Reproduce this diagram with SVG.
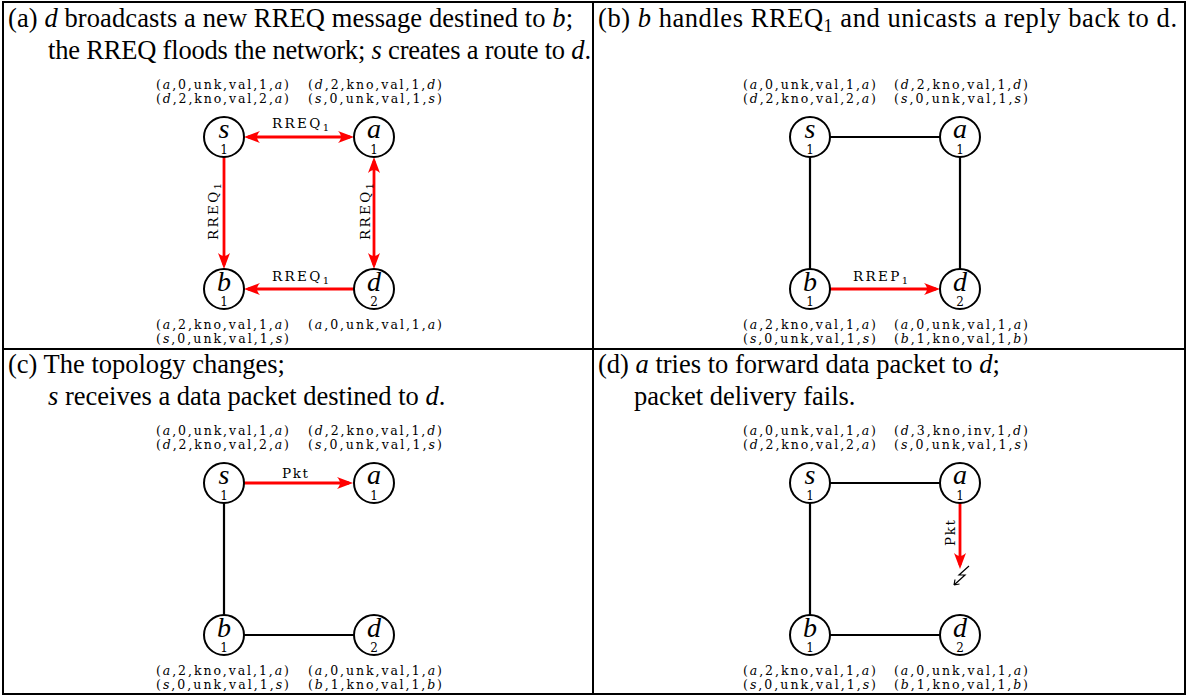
<svg xmlns="http://www.w3.org/2000/svg" width="1188" height="696" viewBox="0 0 1188 696">
<defs>
<marker id="ah" markerUnits="userSpaceOnUse" viewBox="-13 -7 18 14" markerWidth="18" markerHeight="14" refX="0" refY="0" orient="auto-start-reverse">
<path d="M4,0 L-12,-6 C-8,-1.5 -8,1.5 -12,6 Z" fill="#ff0000"/>
</marker>
</defs>
<style>
.title{font-family:"Liberation Serif","Times New Roman",serif;font-size:26.5px;fill:#000}
.it{font-style:italic}
.tbl{font-family:"DejaVu Serif","Liberation Serif",serif;font-size:12.5px;fill:#000}
.nd circle{fill:#fff;stroke:#000;stroke-width:2}
.lbl{font-family:"Liberation Serif",serif;font-style:italic;font-size:28px;text-anchor:middle;fill:#000}
.num{font-family:"DejaVu Serif","Liberation Serif",serif;font-size:12px;text-anchor:middle;fill:#000}
.e{stroke:#000;stroke-width:2.2;fill:none}
.r{stroke:#ff0000;stroke-width:2.8;fill:none}
.ra{marker-end:url(#ah)}
.rb{marker-start:url(#ah);marker-end:url(#ah)}
.el{font-family:"DejaVu Serif","Liberation Serif",serif;font-size:13.5px;fill:#000}
.frame{stroke:#000;stroke-width:2;fill:none}
</style>

<g id="frame">
<rect class="frame" x="3" y="2" width="1182" height="692"/>
<line class="frame" x1="593" y1="2" x2="593" y2="694"/>
<line class="frame" x1="3" y1="349" x2="1185" y2="349"/>
</g>

<g id="titles">
<text class="title" x="8" y="27" textLength="565">(a) <tspan class="it">d</tspan> broadcasts a new RREQ message destined to <tspan class="it">b</tspan>;</text>
<text class="title" x="48" y="59" textLength="543">the RREQ floods the network; <tspan class="it">s</tspan> creates a route to <tspan class="it">d</tspan>.</text>
<text class="title" x="598" y="27" textLength="579">(b) <tspan class="it">b</tspan> handles RREQ<tspan font-size="18" dy="5">1</tspan><tspan dy="-5"> and unicasts a reply back to d.</tspan></text>
<text class="title" x="8" y="373">(c) The topology changes;</text>
<text class="title" x="48" y="405"><tspan class="it">s</tspan> receives a data packet destined to <tspan class="it">d</tspan>.</text>
<text class="title" x="598" y="373">(d) <tspan class="it">a</tspan> tries to forward data packet to <tspan class="it">d</tspan>;</text>
<text class="title" x="634" y="405">packet delivery fails.</text>
</g>

<g id="tables">
<!-- panel a -->
<text class="tbl" x="156" y="89" textLength="133">(<tspan class="it">a</tspan>,0,unk,val,1,<tspan class="it">a</tspan>)</text>
<text class="tbl" x="156" y="103" textLength="133">(<tspan class="it">d</tspan>,2,kno,val,2,<tspan class="it">a</tspan>)</text>
<text class="tbl" x="308" y="89" textLength="134">(<tspan class="it">d</tspan>,2,kno,val,1,<tspan class="it">d</tspan>)</text>
<text class="tbl" x="308" y="103" textLength="134">(<tspan class="it">s</tspan>,0,unk,val,1,<tspan class="it">s</tspan>)</text>
<text class="tbl" x="156" y="329" textLength="133">(<tspan class="it">a</tspan>,2,kno,val,1,<tspan class="it">a</tspan>)</text>
<text class="tbl" x="156" y="343" textLength="133">(<tspan class="it">s</tspan>,0,unk,val,1,<tspan class="it">s</tspan>)</text>
<text class="tbl" x="308" y="329" textLength="134">(<tspan class="it">a</tspan>,0,unk,val,1,<tspan class="it">a</tspan>)</text>
<!-- panel b -->
<text class="tbl" x="743" y="89" textLength="133">(<tspan class="it">a</tspan>,0,unk,val,1,<tspan class="it">a</tspan>)</text>
<text class="tbl" x="743" y="103" textLength="133">(<tspan class="it">d</tspan>,2,kno,val,2,<tspan class="it">a</tspan>)</text>
<text class="tbl" x="894" y="89" textLength="134">(<tspan class="it">d</tspan>,2,kno,val,1,<tspan class="it">d</tspan>)</text>
<text class="tbl" x="894" y="103" textLength="134">(<tspan class="it">s</tspan>,0,unk,val,1,<tspan class="it">s</tspan>)</text>
<text class="tbl" x="743" y="329" textLength="133">(<tspan class="it">a</tspan>,2,kno,val,1,<tspan class="it">a</tspan>)</text>
<text class="tbl" x="743" y="343" textLength="133">(<tspan class="it">s</tspan>,0,unk,val,1,<tspan class="it">s</tspan>)</text>
<text class="tbl" x="894" y="329" textLength="134">(<tspan class="it">a</tspan>,0,unk,val,1,<tspan class="it">a</tspan>)</text>
<text class="tbl" x="894" y="343" textLength="134">(<tspan class="it">b</tspan>,1,kno,val,1,<tspan class="it">b</tspan>)</text>
<!-- panel c -->
<text class="tbl" x="156" y="435" textLength="133">(<tspan class="it">a</tspan>,0,unk,val,1,<tspan class="it">a</tspan>)</text>
<text class="tbl" x="156" y="449" textLength="133">(<tspan class="it">d</tspan>,2,kno,val,2,<tspan class="it">a</tspan>)</text>
<text class="tbl" x="308" y="435" textLength="134">(<tspan class="it">d</tspan>,2,kno,val,1,<tspan class="it">d</tspan>)</text>
<text class="tbl" x="308" y="449" textLength="134">(<tspan class="it">s</tspan>,0,unk,val,1,<tspan class="it">s</tspan>)</text>
<text class="tbl" x="156" y="675" textLength="133">(<tspan class="it">a</tspan>,2,kno,val,1,<tspan class="it">a</tspan>)</text>
<text class="tbl" x="156" y="689" textLength="133">(<tspan class="it">s</tspan>,0,unk,val,1,<tspan class="it">s</tspan>)</text>
<text class="tbl" x="308" y="675" textLength="134">(<tspan class="it">a</tspan>,0,unk,val,1,<tspan class="it">a</tspan>)</text>
<text class="tbl" x="308" y="689" textLength="134">(<tspan class="it">b</tspan>,1,kno,val,1,<tspan class="it">b</tspan>)</text>
<!-- panel d -->
<text class="tbl" x="743" y="435" textLength="133">(<tspan class="it">a</tspan>,0,unk,val,1,<tspan class="it">a</tspan>)</text>
<text class="tbl" x="743" y="449" textLength="133">(<tspan class="it">d</tspan>,2,kno,val,2,<tspan class="it">a</tspan>)</text>
<text class="tbl" x="894" y="435" textLength="134">(<tspan class="it">d</tspan>,3,kno,inv,1,<tspan class="it">d</tspan>)</text>
<text class="tbl" x="894" y="449" textLength="134">(<tspan class="it">s</tspan>,0,unk,val,1,<tspan class="it">s</tspan>)</text>
<text class="tbl" x="743" y="675" textLength="133">(<tspan class="it">a</tspan>,2,kno,val,1,<tspan class="it">a</tspan>)</text>
<text class="tbl" x="743" y="689" textLength="133">(<tspan class="it">s</tspan>,0,unk,val,1,<tspan class="it">s</tspan>)</text>
<text class="tbl" x="894" y="675" textLength="134">(<tspan class="it">a</tspan>,0,unk,val,1,<tspan class="it">a</tspan>)</text>
<text class="tbl" x="894" y="689" textLength="134">(<tspan class="it">b</tspan>,1,kno,val,1,<tspan class="it">b</tspan>)</text>
</g>

<g id="connectors">
<!-- panel a -->
<line class="r rb" x1="248" y1="137" x2="350" y2="137"/>
<line class="r ra" x1="224" y1="157" x2="224" y2="265"/>
<line class="r rb" x1="374" y1="161" x2="374" y2="265"/>
<line class="r ra" x1="354" y1="289" x2="248" y2="289"/>
<text class="el" x="272" y="128" textLength="57">RREQ<tspan font-size="10" dy="3">1</tspan></text>
<text class="el" x="272" y="281" textLength="57">RREQ<tspan font-size="10" dy="3">1</tspan></text>
<text class="el" transform="translate(218,211) rotate(-90)" x="-29" y="0" textLength="57">RREQ<tspan font-size="10" dy="3">1</tspan></text>
<text class="el" transform="translate(370,211) rotate(-90)" x="-29" y="0" textLength="57">RREQ<tspan font-size="10" dy="3">1</tspan></text>
<!-- panel b -->
<line class="e" x1="830" y1="137" x2="940" y2="137"/>
<line class="e" x1="810" y1="157" x2="810" y2="269"/>
<line class="e" x1="960" y1="157" x2="960" y2="269"/>
<line class="r ra" x1="830" y1="289" x2="936" y2="289"/>
<text class="el" x="853" y="281" textLength="55">RREP<tspan font-size="10" dy="3">1</tspan></text>
<!-- panel c -->
<line class="r ra" x1="244" y1="483" x2="349" y2="483"/>
<text class="el" x="282" y="478" textLength="26">Pkt</text>
<line class="e" x1="224" y1="503" x2="224" y2="615"/>
<line class="e" x1="244" y1="635" x2="354" y2="635"/>
<!-- panel d -->
<line class="e" x1="830" y1="483" x2="940" y2="483"/>
<line class="e" x1="810" y1="503" x2="810" y2="615"/>
<line class="e" x1="830" y1="635" x2="940" y2="635"/>
<line class="r ra" x1="960" y1="503" x2="960" y2="565"/>
<text class="el" transform="translate(955,533) rotate(-90)" x="-13" y="0" textLength="26">Pkt</text>
<path d="M969,566 L959,575 L965,575 L954,585 M954,585 L959.5,584 M954,585 L955,579.5" stroke="#000" stroke-width="1.2" fill="none"/>
</g>

<g id="a-s" class="nd"><circle cx="224" cy="137" r="20"/><text class="lbl" x="224" y="138">s</text><text class="num" x="224" y="154">1</text></g>
<g id="a-a" class="nd"><circle cx="374" cy="137" r="20"/><text class="lbl" x="374" y="138">a</text><text class="num" x="374" y="154">1</text></g>
<g id="a-b" class="nd"><circle cx="224" cy="289" r="20"/><text class="lbl" x="224" y="291">b</text><text class="num" x="224" y="306">1</text></g>
<g id="a-d" class="nd"><circle cx="374" cy="289" r="20"/><text class="lbl" x="374" y="291">d</text><text class="num" x="374" y="306">2</text></g>

<g id="b-s" class="nd"><circle cx="810" cy="137" r="20"/><text class="lbl" x="810" y="138">s</text><text class="num" x="810" y="154">1</text></g>
<g id="b-a" class="nd"><circle cx="960" cy="137" r="20"/><text class="lbl" x="960" y="138">a</text><text class="num" x="960" y="154">1</text></g>
<g id="b-b" class="nd"><circle cx="810" cy="289" r="20"/><text class="lbl" x="810" y="291">b</text><text class="num" x="810" y="306">1</text></g>
<g id="b-d" class="nd"><circle cx="960" cy="289" r="20"/><text class="lbl" x="960" y="291">d</text><text class="num" x="960" y="306">2</text></g>

<g id="c-s" class="nd"><circle cx="224" cy="483" r="20"/><text class="lbl" x="224" y="484">s</text><text class="num" x="224" y="500">1</text></g>
<g id="c-a" class="nd"><circle cx="374" cy="483" r="20"/><text class="lbl" x="374" y="484">a</text><text class="num" x="374" y="500">1</text></g>
<g id="c-b" class="nd"><circle cx="224" cy="635" r="20"/><text class="lbl" x="224" y="637">b</text><text class="num" x="224" y="652">1</text></g>
<g id="c-d" class="nd"><circle cx="374" cy="635" r="20"/><text class="lbl" x="374" y="637">d</text><text class="num" x="374" y="652">2</text></g>

<g id="d-s" class="nd"><circle cx="810" cy="483" r="20"/><text class="lbl" x="810" y="484">s</text><text class="num" x="810" y="500">1</text></g>
<g id="d-a" class="nd"><circle cx="960" cy="483" r="20"/><text class="lbl" x="960" y="484">a</text><text class="num" x="960" y="500">1</text></g>
<g id="d-b" class="nd"><circle cx="810" cy="635" r="20"/><text class="lbl" x="810" y="637">b</text><text class="num" x="810" y="652">1</text></g>
<g id="d-d" class="nd"><circle cx="960" cy="635" r="20"/><text class="lbl" x="960" y="637">d</text><text class="num" x="960" y="652">2</text></g>
</svg>
